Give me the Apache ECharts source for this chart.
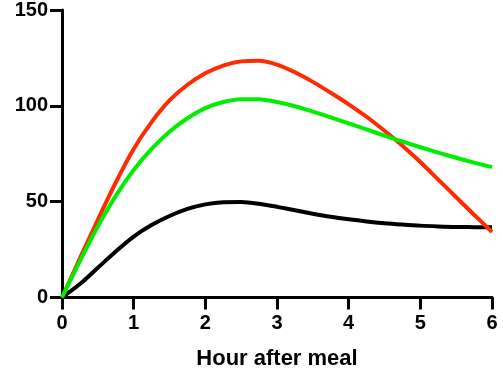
<!DOCTYPE html>
<html><head><meta charset="utf-8">
<script src="https://cdn.jsdelivr.net/npm/echarts@6/dist/echarts.min.js"></script>
<style>html,body{margin:0;padding:0;background:#fff}#c{width:503px;height:370px}</style>
</head><body><div id="c"></div>
<script>
const hours = [0, 0.25, 0.5, 0.75, 1, 1.25, 1.5, 1.75, 2, 2.25, 2.5, 2.75, 3, 3.25, 3.5, 3.75, 4, 4.25, 4.5, 4.75, 5, 5.25, 5.5, 5.75, 6];
const redValues   = [0, 20.5, 40.5, 60, 77.5, 91.5, 102.8, 111, 117, 121, 123.2, 123.5, 121.5, 117.5, 112.5, 106.8, 100.8, 94.3, 87, 79.2, 70.7, 61.5, 52.3, 43.2, 34.2];
const greenValues = [0, 19, 37, 53, 66.5, 77.5, 86.5, 93.5, 98.8, 102, 103.5, 103.4, 102, 99.8, 97, 94, 90.9, 87.7, 84.5, 81.4, 78.4, 75.6, 72.9, 70.4, 68];
const blackValues = [0, 7, 15.5, 24, 31.8, 37.8, 42.5, 46.2, 48.6, 49.7, 49.8, 48.9, 47.3, 45.5, 43.7, 42.1, 40.8, 39.7, 38.8, 38.1, 37.5, 37.1, 36.8, 36.7, 36.6];
const xTicks = [0, 1, 2, 3, 4, 5, 6];
const yTicks = [0, 50, 100, 150];

const pair = v => hours.map((h, i) => [h, v[i]]);
const font = 'Liberation Sans, Arial, sans-serif';
const chart = echarts.init(document.getElementById('c'));
chart.setOption({
  animation: false,
  grid: {left: 62, right: 11, top: 10, bottom: 72.5, outerBoundsMode: 'none', containLabel: false},
  xAxis: {
    type: 'value', min: 0, max: 6, interval: 1,
    name: 'Hour after meal', nameLocation: 'middle', nameGap: 50,
    nameTextStyle: {fontFamily: font, fontWeight: 'bold', fontSize: 22, color: '#000'},
    axisLine: {show: true, lineStyle: {color: '#000', width: 3}},
    axisTick: {show: true, length: 12, lineStyle: {color: '#000', width: 3}},
    axisLabel: {fontFamily: font, fontWeight: 'bold', fontSize: 20, color: '#000', margin: 16,
      formatter: v => xTicks.includes(v) ? String(v) : ''},
    splitLine: {show: false}
  },
  yAxis: {
    type: 'value', min: 0, max: 150, interval: 50,
    axisLine: {show: true, lineStyle: {color: '#000', width: 3}},
    axisTick: {show: true, length: 12, lineStyle: {color: '#000', width: 3}},
    axisLabel: {fontFamily: font, fontWeight: 'bold', fontSize: 20, color: '#000', margin: 14,
      formatter: v => yTicks.includes(v) ? String(v) : ''},
    splitLine: {show: false}
  },
  series: [
    {type: 'line', data: pair(blackValues), smooth: 0.3, showSymbol: false, lineStyle: {color: '#000000', width: 4}},
    {type: 'line', data: pair(redValues), smooth: 0.3, showSymbol: false, lineStyle: {color: '#FF2A00', width: 4}},
    {type: 'line', data: pair(greenValues), smooth: 0.3, showSymbol: false, lineStyle: {color: '#00EE00', width: 4}}
  ]
});
</script></body></html>
